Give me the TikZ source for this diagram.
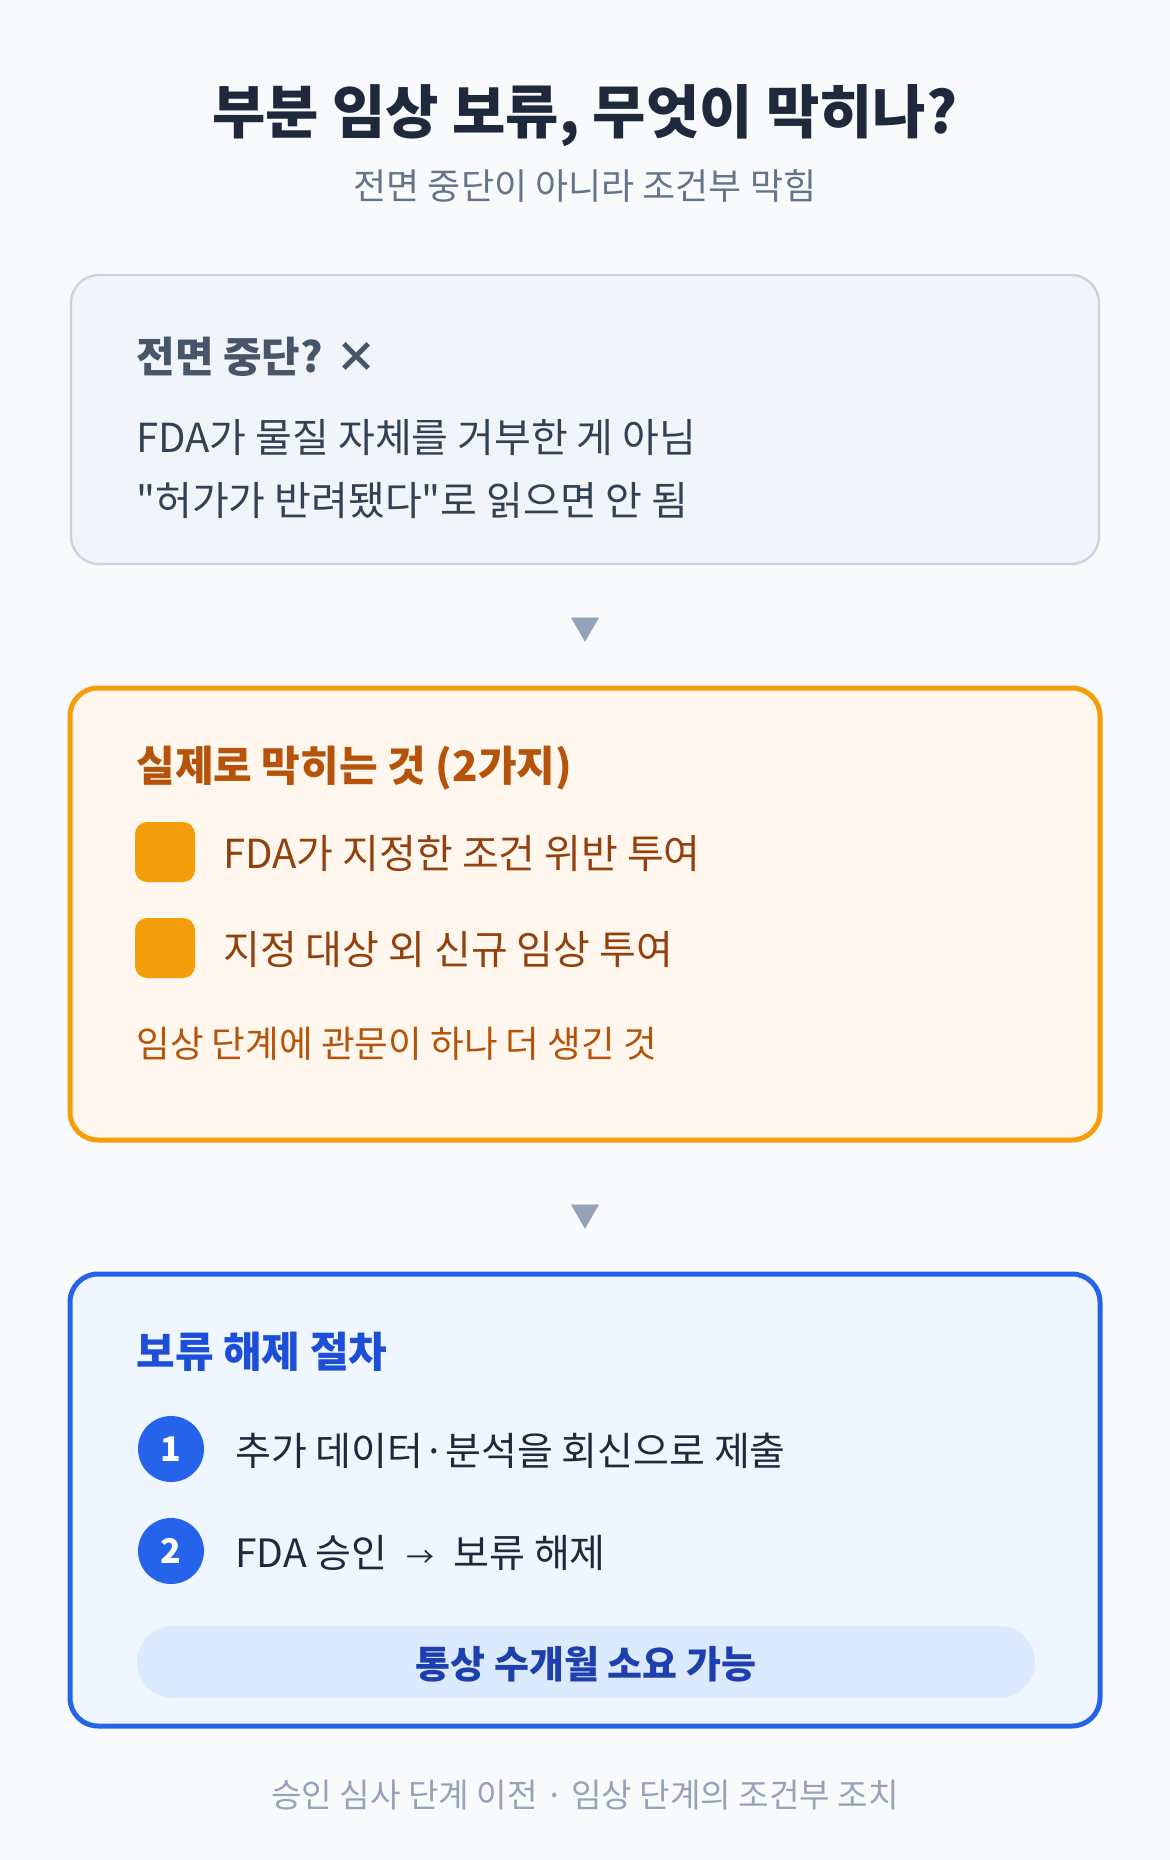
\documentclass[tikz,border=0pt]{standalone}
\usepackage{fontspec}
\setmainfont{Noto Sans CJK KR}
\newcommand\straightquote{\XeTeXglyph\XeTeXcharglyph34\relax}

\definecolor{bgcol}{HTML}{F8FAFC}
\definecolor{titlecol}{HTML}{1E293B}
\definecolor{subcol}{HTML}{64748B}
\definecolor{footcol}{HTML}{94A3B8}
\definecolor{slatefill}{HTML}{F1F5F9}
\definecolor{slateline}{HTML}{CBD5E1}
\definecolor{slatehead}{HTML}{475569}
\definecolor{slatetext}{HTML}{334155}
\definecolor{amberfill}{HTML}{FFF7ED}
\definecolor{amberline}{HTML}{F59E0B}
\definecolor{amberhead}{HTML}{B45309}
\definecolor{ambertext}{HTML}{92400E}
\definecolor{bluefill}{HTML}{EFF6FF}
\definecolor{blueline}{HTML}{2563EB}
\definecolor{bluehead}{HTML}{1D4ED8}
\definecolor{pillfill}{HTML}{DBEAFE}
\definecolor{pilltext}{HTML}{1E40AF}

\tikzset{
	every node/.style={inner sep=0pt},
	lefttext/.style={anchor=west},
	headtext/.style={lefttext,font=\fontsize{21}{25}\selectfont\bfseries},
	bodytext/.style={lefttext,font=\fontsize{20}{24}\selectfont},
	downmark/.style={text=footcol,font=\fontsize{15}{17}\selectfont},
}

\begin{document}
\begin{tikzpicture}[x=0.5pt,y=-0.5pt]

	\fill[bgcol] (0,0) rectangle (1170,1860);
	\useasboundingbox (0,0) rectangle (1170,1860);

	\node [text=titlecol,font=\fontsize{29}{34}\selectfont\bfseries] (title) at (585,116) {부분 임상 보류, 무엇이 막히나?};
	\node [text=subcol,font=\fontsize{18}{22}\selectfont] (subtitle) at (585,186) {전면 중단이 아니라 조건부 막힘};

	% first box
	\draw[rounded corners=14pt,line width=1.2pt,draw=slateline,fill=slatefill] (71,275) rectangle (1099,564);
	\node [headtext,text=slatehead] (stophead) at (136,357) {전면 중단? ×};
	\node [bodytext,text=slatetext] (stopline1) at (136,438) {FDA가 물질 자체를 거부한 게 아님};
	\node [bodytext,text=slatetext] (stopline2) at (136,501) {\straightquote 허가가 반려됐다\straightquote 로 읽으면 안 됨};

	\node [downmark] (down1) at (585,630) {▼};

	% second box
	\draw[rounded corners=14pt,line width=2.5pt,draw=amberline,fill=amberfill] (70,688) rectangle (1100,1140);
	\node [headtext,text=amberhead] (blockhead) at (136,768) {실제로 막히는 것 (2가지)};
	\foreach \y/\txt [count=\i] in {852/FDA가 지정한 조건 위반 투여,948/지정 대상 외 신규 임상 투여} {
		\draw[rounded corners=6pt,fill=amberline,draw=none] (135,\y-30) rectangle (195,\y+30);
		\node [bodytext,text=ambertext] (block\i) at (223,\y+2) {\txt};
	}
	\node [lefttext,text=amberhead,font=\fontsize{18.3}{22}\selectfont] (blocknote) at (136,1044) {임상 단계에 관문이 하나 더 생긴 것};

	\node [downmark] (down2) at (585,1217) {▼};

	% third box
	\draw[rounded corners=14pt,line width=2.5pt,draw=blueline,fill=bluefill] (70,1274) rectangle (1100,1726);
	\node [headtext,text=bluehead] (liftHead) at (136,1352) {보류 해제 절차};
	\foreach \y/\txt [count=\i] in {1449/추가 데이터·분석을 회신으로 제출,1551/FDA 승인\hspace{9.5pt}{\fontsize{14}{16}\selectfont →}\hspace{9.5pt}보류 해제} {
		\node [circle,minimum size=33pt,fill=blueline,text=white,font=\fontsize{17}{20}\selectfont\bfseries] (num\i) at (171,\y) {\i};
		\node [lefttext,text=titlecol,font=\fontsize{19.5}{23}\selectfont] (lift\i) at (235,\y+2) {\txt};
	}
	\draw[rounded corners=18pt,fill=pillfill,draw=none] (137,1626) rectangle (1035,1698);
	\node [text=pilltext,font=\fontsize{19}{23}\selectfont\bfseries] (pill) at (586,1664) {통상 수개월 소요 가능};

	\node [text=footcol,font=\fontsize{16.6}{20}\selectfont] (footer) at (585,1795) {승인 심사 단계 이전 · 임상 단계의 조건부 조치};

\end{tikzpicture}
\end{document}
